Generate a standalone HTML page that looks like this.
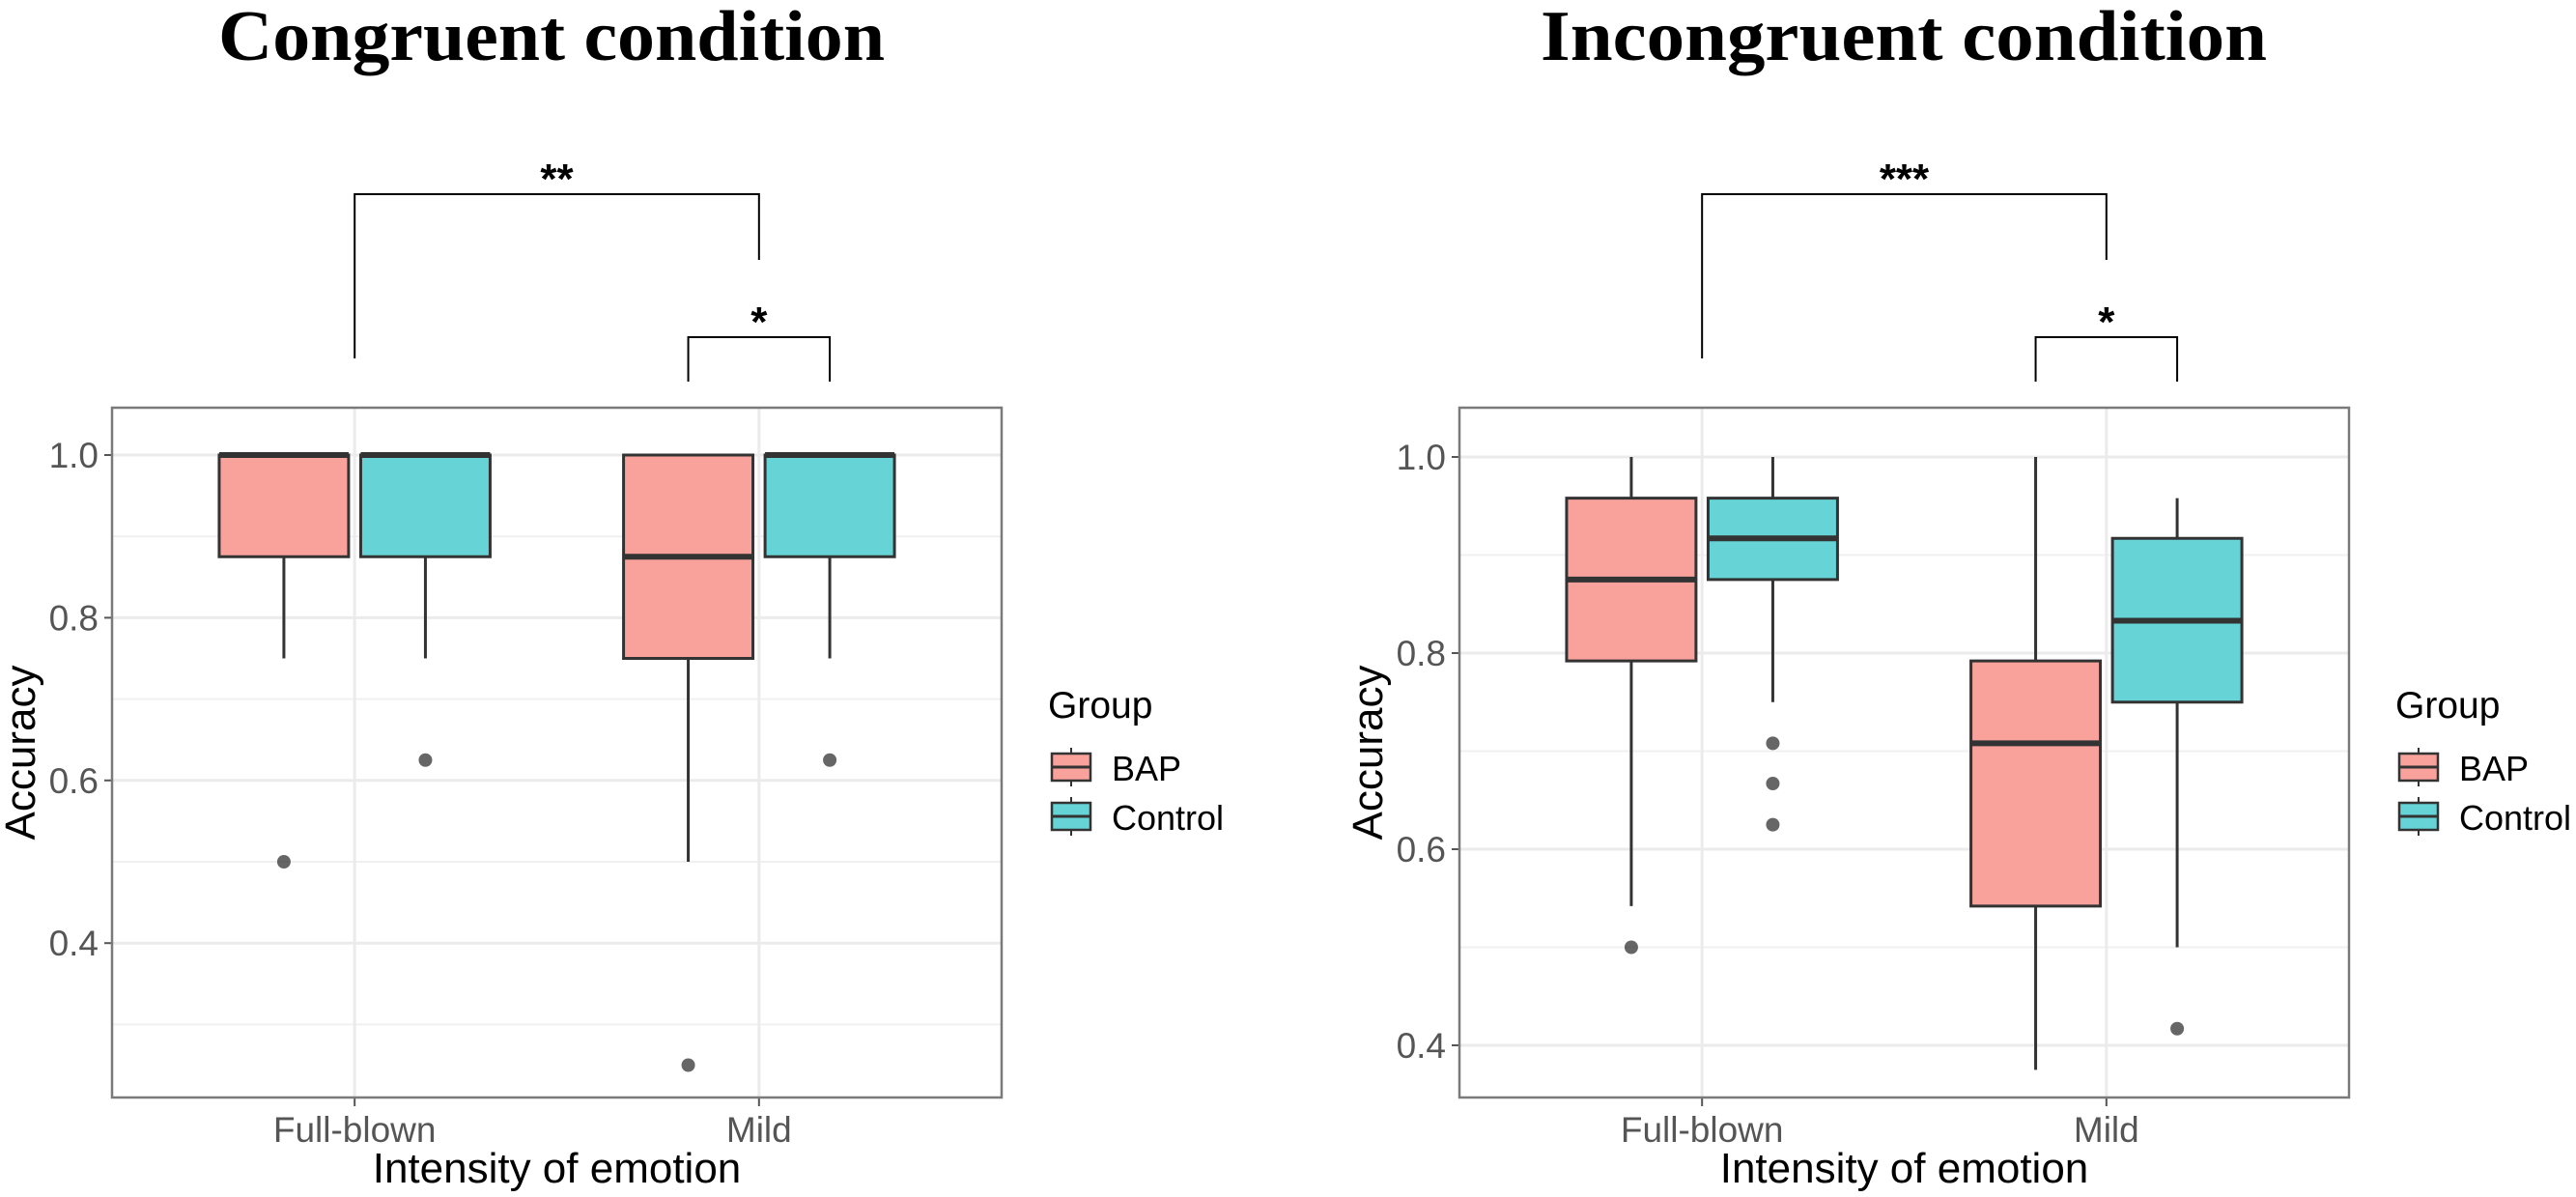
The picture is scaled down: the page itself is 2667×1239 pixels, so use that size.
<!DOCTYPE html>
<html><head><meta charset="utf-8"><style>
html,body{margin:0;padding:0;background:#fff;}
svg{display:block;}
</style></head><body>
<svg id="chart" width="2667" height="1239" viewBox="0 0 2667 1239" xmlns="http://www.w3.org/2000/svg" font-family="Liberation Sans, sans-serif">
<text x="571" y="62" text-anchor="middle" font-family="Liberation Serif, serif" font-weight="bold" font-size="74" textLength="690" lengthAdjust="spacingAndGlyphs">Congruent condition</text>
<text x="1971" y="62" text-anchor="middle" font-family="Liberation Serif, serif" font-weight="bold" font-size="74" textLength="752" lengthAdjust="spacingAndGlyphs">Incongruent condition</text>
<g id="panels"></g>
</svg>
<script>
const categories = ["Full-blown", "Mild"];
const groups = ["BAP", "Control"];
// Congruent: [low whisker, q1, median, q3, high whisker] per category per group
const congBAP = [[0.75, 0.875, 1.0, 1.0, 1.0], [0.5, 0.75, 0.875, 1.0, 1.0]];
const congCtrl = [[0.75, 0.875, 1.0, 1.0, 1.0], [0.75, 0.875, 1.0, 1.0, 1.0]];
const congBAPOut = [[0.5], [0.25]];
const congCtrlOut = [[0.625], [0.625]];
const congTicks = [0.4, 0.6, 0.8, 1.0];
const congMinor = [0.3, 0.5, 0.7, 0.9];
// Incongruent
const incBAP = [[0.542, 0.792, 0.875, 0.958, 1.0], [0.375, 0.542, 0.708, 0.792, 1.0]];
const incCtrl = [[0.75, 0.875, 0.917, 0.958, 1.0], [0.5, 0.75, 0.833, 0.917, 0.958]];
const incBAPOut = [[0.5], []];
const incCtrlOut = [[0.708, 0.667, 0.625], [0.417]];
const incTicks = [0.4, 0.6, 0.8, 1.0];
const incMinor = [0.5, 0.7, 0.9];
const congSig = ["**", "*"];
const incSig = ["***", "*"];

const NS = "http://www.w3.org/2000/svg";
const root = document.getElementById("panels");
function mk(tag, attrs, parent, text) {
  const e = document.createElementNS(NS, tag);
  for (const k in attrs) e.setAttribute(k, attrs[k]);
  if (text !== undefined) e.textContent = text;
  (parent || root).appendChild(e);
  return e;
}
const fills = ["#F9A19B", "#66D3D6"];

function panel(cfg) {
  const g = mk("g", {});
  
  
  const L = cfg.left, R = cfg.left + 921, T = 422, B = 1136;
  const step = 921 / 2.2;
  const xc = i => L + step * 0.6 + i * step;
  const y = v => cfg.y1 + (1 - v) * cfg.k;
  cfg.minor.forEach(v => {
    const l = mk("line", {x1: L, x2: R, y1: y(v), y2: y(v), stroke: "#f0f0f0", "stroke-width": 2}, g);
    
    
  });
  cfg.ticks.forEach(v => {
    const l = mk("line", {x1: L, x2: R, y1: y(v), y2: y(v), stroke: "#ebebeb", "stroke-width": 3}, g);
    
    
    const tk = mk("line", {x1: L - 8, x2: L, y1: y(v), y2: y(v), stroke: "#555", "stroke-width": 2}, g);
    
    
    const t = mk("text", {x: L - 14, y: y(v) + 13, "text-anchor": "end", "font-size": 37, fill: "#555"}, g, v.toFixed(1));
    
    
  });
  categories.forEach((c, i) => {
    const l = mk("line", {x1: xc(i), x2: xc(i), y1: T, y2: B, stroke: "#ebebeb", "stroke-width": 3}, g);
    
    
    const tk = mk("line", {x1: xc(i), x2: xc(i), y1: B, y2: B + 9, stroke: "#555", "stroke-width": 2}, g);
    
    
    const t = mk("text", {x: xc(i), y: B + 46, "text-anchor": "middle", "font-size": 37, fill: "#555"}, g, c);
    
    
  });
  const series = [cfg.bap, cfg.ctrl], outs = [cfg.bapOut, cfg.ctrlOut];
  const off = 0.175 * step, bw = 0.32 * step;
  series.forEach((s, gi) => {
    s.forEach((q, ci) => {
      const cx = xc(ci) + (gi === 0 ? -off : off);
      const w = mk("line", {x1: cx, x2: cx, y1: y(q[0]), y2: y(q[4]), stroke: "#333", "stroke-width": 3}, g);
      
      
      const b = mk("rect", {x: cx - bw / 2, y: y(q[3]), width: bw, height: Math.max(0, y(q[1]) - y(q[3])), fill: fills[gi], stroke: "#333", "stroke-width": 3}, g);
      
      
      const m = mk("line", {x1: cx - bw / 2, x2: cx + bw / 2, y1: y(q[2]), y2: y(q[2]), stroke: "#333", "stroke-width": 6}, g);
      
      
      outs[gi][ci].forEach(v => {
        const p = mk("circle", {cx: cx, cy: y(v), r: 7, fill: "#333", "fill-opacity": 0.75}, g);
        
        
      });
    });
  });
  const fr = mk("rect", {x: L, y: T, width: R - L, height: B - T, fill: "none", stroke: "#7a7a7a", "stroke-width": 2.5}, g);
  
  
  const yt = mk("text", {x: 0, y: 0, transform: "translate(" + (L - 80) + "," + ((T + B) / 2) + ") rotate(-90)", "text-anchor": "middle", "font-size": 44, fill: "#000"}, g, "Accuracy");
  
  
  const xt = mk("text", {x: (L + R) / 2, y: 1224, "text-anchor": "middle", "font-size": 44, fill: "#000"}, g, "Intensity of emotion");
  
  
  const bx1 = xc(0), bx2 = xc(1);
  const br1 = mk("polyline", {points: bx1 + ",371 " + bx1 + ",201 " + bx2 + ",201 " + bx2 + ",269", fill: "none", stroke: "#000", "stroke-width": 2}, g);
  
  
  const s1 = mk("text", {x: (bx1 + bx2) / 2, y: 200, "text-anchor": "middle", "font-size": 44, "font-weight": "bold"}, g, cfg.sig[0]);
  
  
  const sx1 = xc(1) - off, sx2 = xc(1) + off;
  const br2 = mk("polyline", {points: sx1 + ",395 " + sx1 + ",349 " + sx2 + ",349 " + sx2 + ",395", fill: "none", stroke: "#000", "stroke-width": 2}, g);
  
  
  const s2 = mk("text", {x: (sx1 + sx2) / 2, y: 348, "text-anchor": "middle", "font-size": 44, "font-weight": "bold"}, g, cfg.sig[1]);
  
  
  const lx = R + 48;
  const lt = mk("text", {x: lx, y: 743, "font-size": 39, fill: "#000"}, g, "Group");
  
  
  groups.forEach((gn, i) => {
    const ky = 780 + i * 51;
    const e = mk("g", {}, g);
    
    
    mk("line", {x1: lx + 24, x2: lx + 24, y1: ky - 6, y2: ky + 34, stroke: "#333", "stroke-width": 2}, e);
    mk("rect", {x: lx + 4, y: ky, width: 40, height: 28, fill: fills[i], stroke: "#333", "stroke-width": 2.5}, e);
    mk("line", {x1: lx + 4, x2: lx + 44, y1: ky + 14, y2: ky + 14, stroke: "#333", "stroke-width": 3}, e);
    mk("text", {x: lx + 66, y: ky + 28, "font-size": 36, fill: "#000"}, e, gn);
  });
}
panel({name: "congruent-panel", left: 116, y1: 471, k: 842, bap: congBAP, ctrl: congCtrl, bapOut: congBAPOut, ctrlOut: congCtrlOut, ticks: congTicks, minor: congMinor, sig: congSig});
panel({name: "incongruent-panel", left: 1511, y1: 473, k: 1015, bap: incBAP, ctrl: incCtrl, bapOut: incBAPOut, ctrlOut: incCtrlOut, ticks: incTicks, minor: incMinor, sig: incSig});
</script>
</body></html>
